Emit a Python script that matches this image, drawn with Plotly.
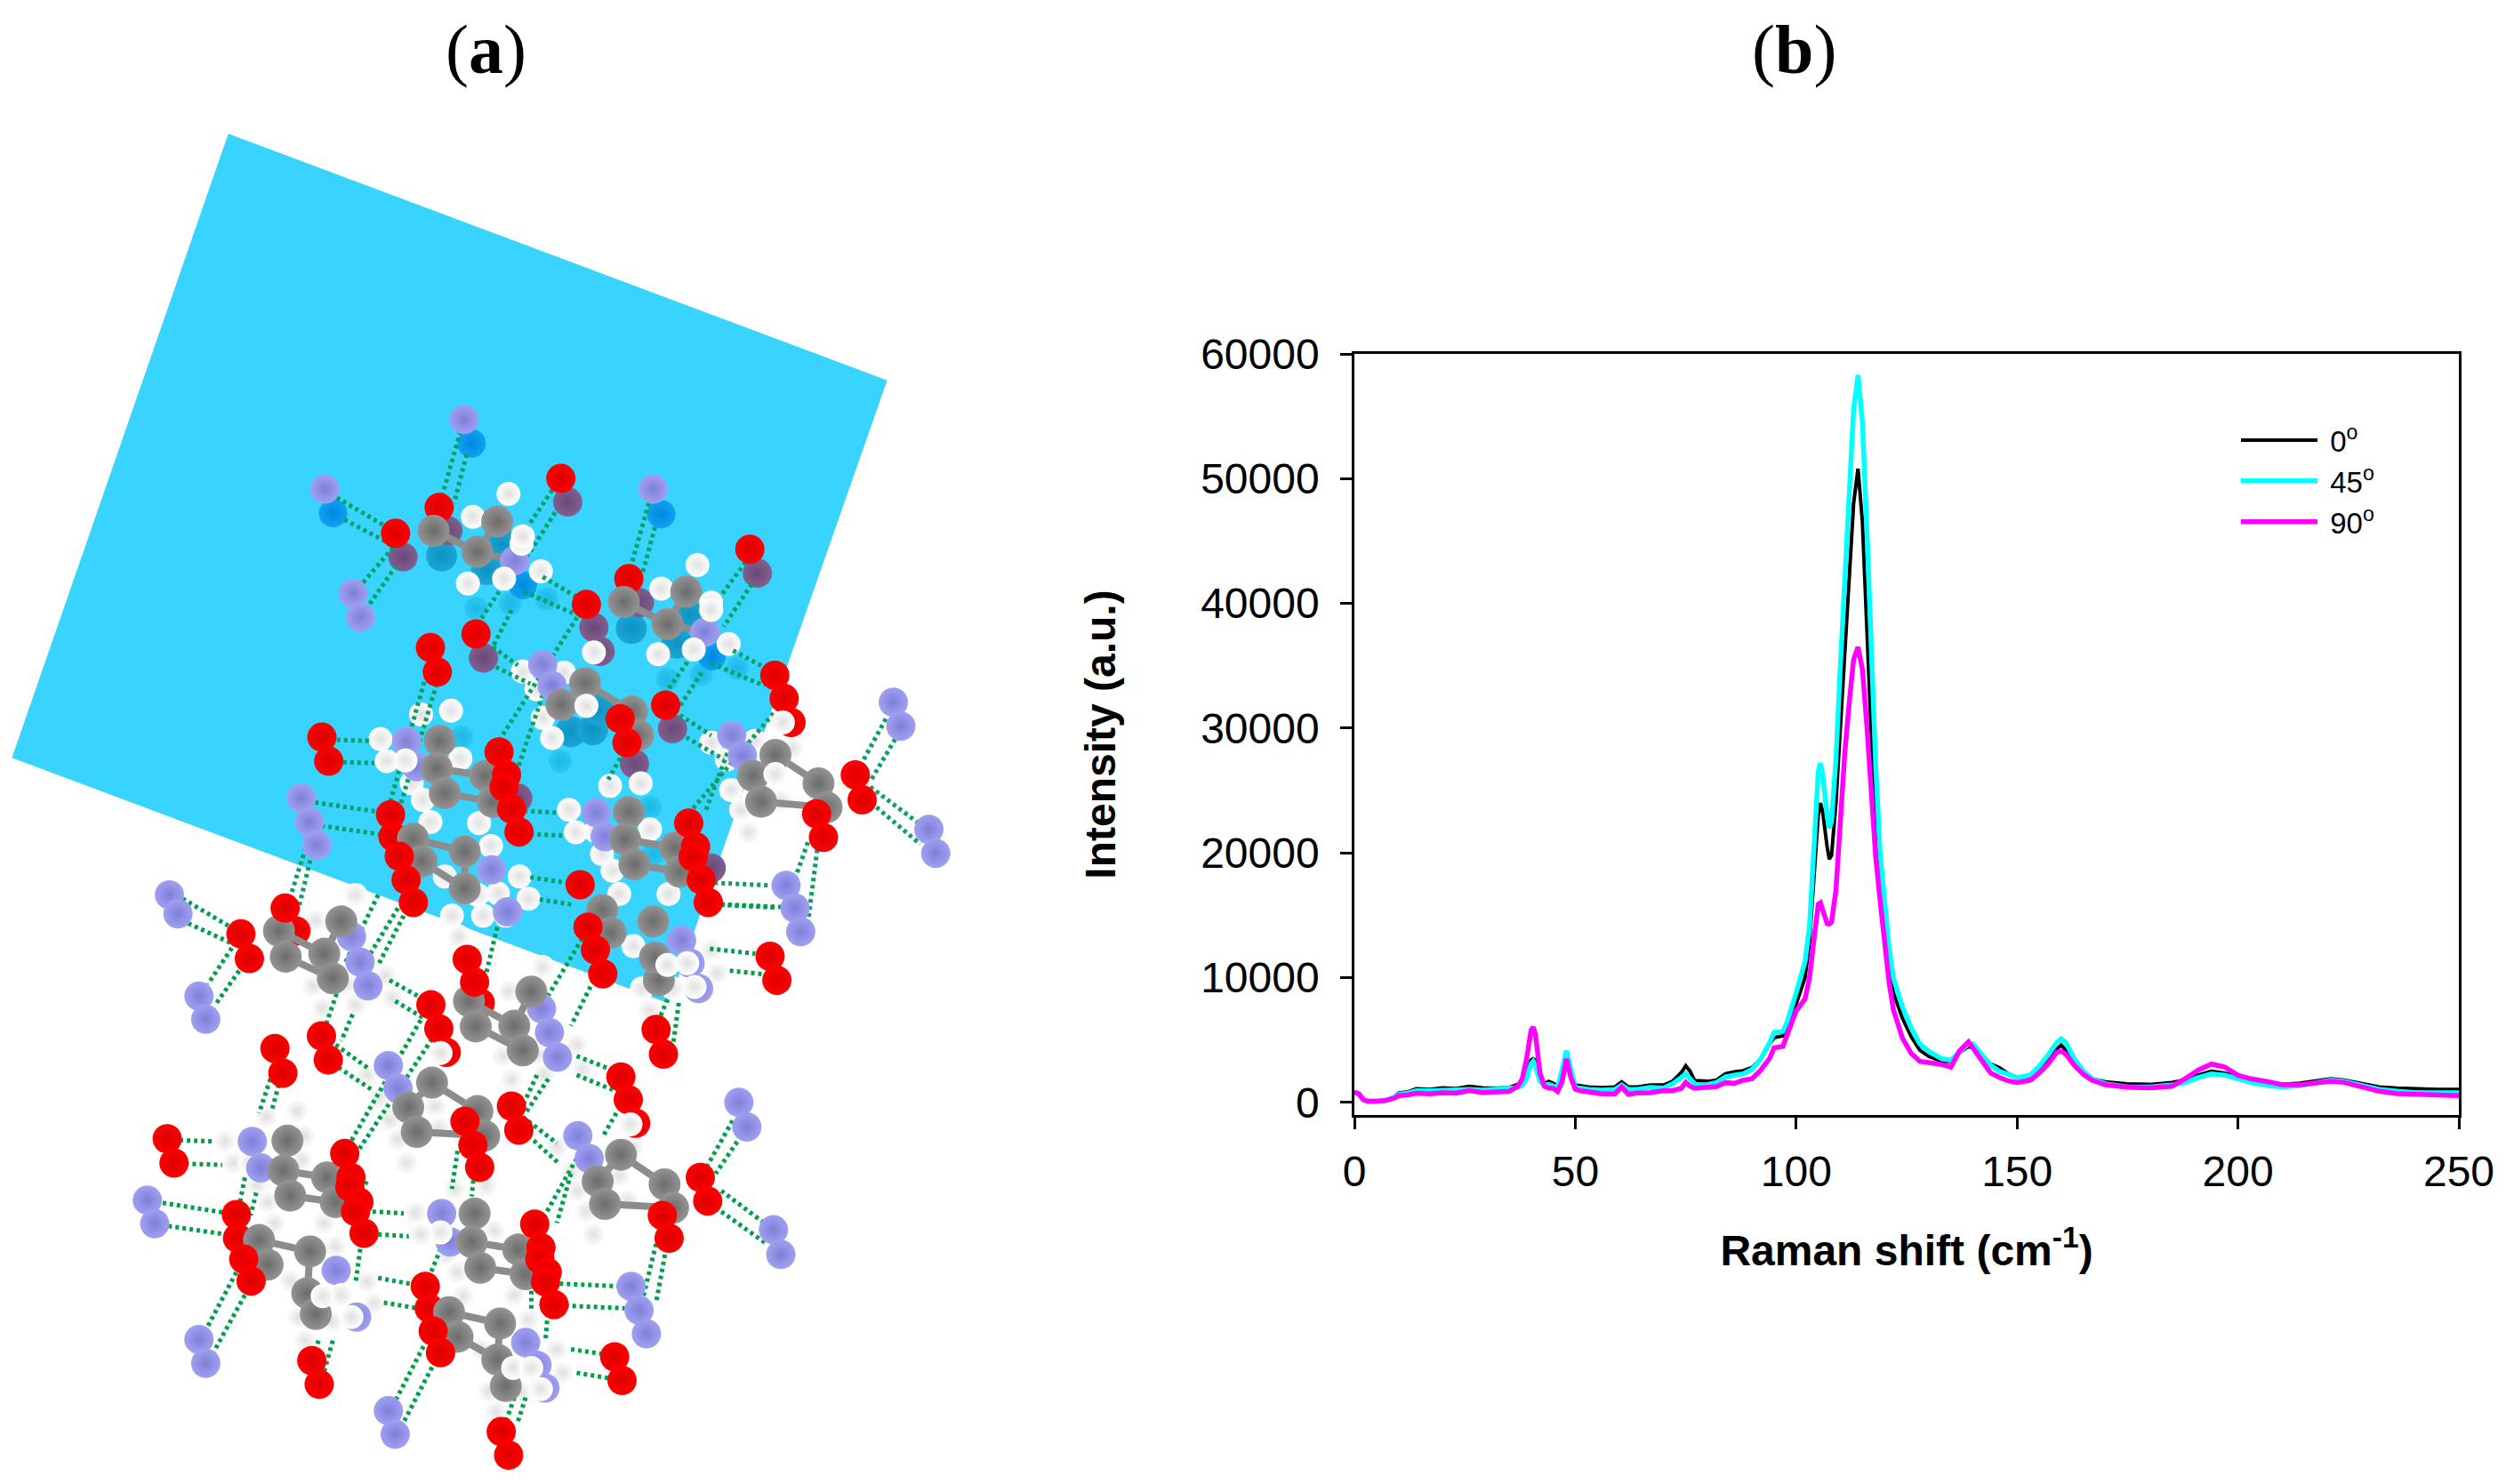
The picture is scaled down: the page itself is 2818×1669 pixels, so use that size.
import plotly.graph_objects as go

W, H = 2818, 1669
PANEL_A_W = 1300

# raman spectra
shift = [0, 1, 2, 3, 5, 7, 9, 10, 12, 14, 17, 20, 23, 26, 29, 32, 35, 37, 38, 39, 39.5, 40, 40.5, 41, 42, 43, 44, 45, 46, 47, 48, 49, 50, 51, 53, 56, 59, 60.5, 62, 64, 67, 70, 72, 74, 75, 76, 77, 78, 80, 82, 84, 86, 88, 90, 92, 94, 95, 97, 98, 100, 102, 103, 104, 105, 105.5, 106, 107, 107.5, 108, 109, 110, 111, 112, 113, 114, 115, 116, 117, 118, 119, 120, 121, 122, 124, 126, 128, 130, 133, 135, 137, 139, 140, 142, 144, 146, 148, 150, 153, 155, 157, 159, 160, 161, 163, 165, 167, 170, 175, 180, 185, 188, 191, 194, 197, 200, 203, 207, 210, 214, 218, 221, 224, 228, 232, 236, 240, 245, 250]
deg0 = [800, 650, 240, 100, 100, 200, 450, 750, 850, 1100, 1050, 1180, 1120, 1300, 1180, 1150, 1200, 1450, 1750, 2300, 3000, 3400, 3500, 3400, 2000, 1500, 1700, 1550, 1300, 2000, 3500, 2300, 1400, 1350, 1250, 1200, 1250, 1650, 1250, 1250, 1400, 1400, 1700, 2400, 2950, 2500, 1750, 1750, 1700, 1800, 2300, 2450, 2550, 2800, 3500, 4700, 5200, 5350, 6000, 7900, 10000, 12800, 18000, 23000, 24000, 23300, 20500, 19500, 19800, 24000, 30000, 36000, 42000, 48000, 50800, 46500, 38000, 29000, 21000, 16000, 13000, 10500, 8800, 6800, 5300, 4200, 3700, 3300, 3300, 4000, 4500, 4400, 3700, 3100, 2800, 2300, 2000, 2100, 2700, 3400, 4300, 4600, 4200, 3200, 2300, 1900, 1650, 1500, 1450, 1600, 1800, 2200, 2500, 2350, 2050, 1750, 1500, 1450, 1550, 1750, 1900, 1800, 1500, 1250, 1150, 1100, 1050, 1050]
deg45 = [800, 650, 240, 100, 100, 170, 400, 650, 750, 950, 950, 1000, 1000, 1050, 1000, 1050, 1080, 1200, 1400, 1900, 2600, 3100, 3300, 2900, 1700, 1400, 1450, 1350, 1200, 2600, 4150, 2700, 1200, 1150, 1050, 1000, 1050, 1400, 1050, 1050, 1200, 1150, 1500, 2000, 2300, 1900, 1500, 1400, 1450, 1600, 2050, 2200, 2300, 2650, 3500, 4800, 5600, 5700, 6500, 8800, 11300, 14000, 20000, 26500, 27200, 26300, 23000, 22000, 22500, 27500, 35000, 42000, 49000, 55500, 58300, 54500, 46000, 36000, 27000, 20000, 16000, 12500, 10000, 7700, 6000, 4700, 4100, 3500, 3400, 4100, 4700, 4700, 3900, 3000, 2500, 2200, 2000, 2200, 2900, 3800, 4800, 5100, 4800, 3500, 2500, 1900, 1500, 1250, 1250, 1400, 1600, 2000, 2300, 2200, 1900, 1600, 1350, 1250, 1350, 1600, 1800, 1700, 1350, 1050, 900, 800, 780, 780]
deg90 = [830, 700, 240, 100, 100, 150, 350, 550, 600, 750, 700, 780, 750, 950, 800, 830, 880, 1300, 1900, 3550, 4980, 5800, 6040, 5450, 2370, 1300, 1160, 1130, 880, 1650, 3500, 2000, 1070, 950, 850, 700, 700, 1230, 660, 760, 780, 950, 950, 1140, 1610, 1300, 1140, 1140, 1230, 1280, 1590, 1540, 1780, 1900, 2600, 3550, 4380, 4500, 5450, 7350, 8300, 9950, 13000, 15880, 16000, 15400, 14340, 14300, 14460, 17000, 23200, 28000, 32000, 35500, 36500, 34700, 30200, 25200, 19700, 16200, 12700, 9700, 7450, 5200, 3950, 3300, 3200, 3050, 2840, 4150, 4860, 4380, 3300, 2370, 2010, 1730, 1610, 1780, 2370, 3080, 4030, 4100, 3900, 2960, 2250, 1780, 1420, 1230, 1180, 1300, 1900, 2600, 3080, 2840, 2180, 1900, 1660, 1420, 1420, 1590, 1700, 1610, 1300, 900, 710, 660, 620, 550]
series_names = ["\u00a00<sup>o</sup>", "\u00a045<sup>o</sup>", "\u00a090<sup>o</sup>"]
x_ticks = [0, 50, 100, 150, 200, 250]
y_ticks = [0, 10000, 20000, 30000, 40000, 50000, 60000]

# plane corners in picture pixels
plane_x = [257, 997, 752, 14, 257]
plane_y = [151, 428, 1128, 852, 151]

n_a = [(744,173),(521,362),(1047,362),(566,645),(578,710),(825,556),(1130,750),(870,838),(885,895),(1173,1030),(1190,1085),(1432,940),(1444,1005),(483,1200),(496,1265),(508,1328),(652,1047),(668,1115),(956,1240),(970,1305),(1489,1285),(1500,1350),(1260,1437),(788,1395)]
n_b = [(142,15),(157,65),(194,282),(206,343),(463,125),(478,192),(492,255),(1245,50),(1255,112),(738,60),(1045,135),(1060,195),(1075,262),(798,315),(812,378),(826,443),(528,465),(545,525),(862,650),(882,710),(1146,562),(1160,627),(1207,898),(1220,963),(103,820),(116,882),(288,665),(303,735),(622,855),(637,930),(956,1047),(970,1110),(983,1172),(436,1005),(472,1128),(770,1195),(790,1255),(804,1315),(194,1187),(206,1250),(528,1375),(540,1437)]
o_back_a = [(704,412),(1008,605),(1268,995),(630,1305)]
o_back_b = [(365,110),(690,300),(630,430),(262,920),(600,1105)]
o_a = [(634,482),(899,333),(940,675),(1202,525),(763,755),(690,792),(701,858),(1242,867),(1257,930),(1067,948),(994,985),(1005,1050),(516,1035),(527,1100),(800,1075),(812,1137),(808,1170),(820,1230),(832,1292),(626,1245),(640,1358),(651,1422),(1371,1137),(1382,1205),(1309,1243),(1320,1307),(1104,1268),(1115,1332),(1111,1360),(1124,1422),(930,1435)]
o_b = [(346,50),(268,118),(283,183),(572,35),(667,185),(680,245),(603,305),(617,368),(1092,35),(880,100),(893,160),(906,223),(1201,177),(1213,240),(1000,370),(1013,435),(410,387),(422,450),(328,420),(342,485),(938,495),(951,555),(964,617),(745,572),(758,635),(663,612),(677,675),(689,733),(451,697),(462,760),(460,785),(476,825),(470,850),(485,907),(1078,760),(1091,822),(1011,860),(1023,920),(138,658),(150,722),(260,858),(273,975),(286,1033),(786,883),(797,945),(795,975),(808,1010),(805,1035),(820,1095),(593,1047),(607,1165),(620,1222),(927,1233),(940,1295),(393,1243),(406,1305),(727,1430),(740,1492)]
c_a = [(695,475),(797,450),(765,532),(1000,668),(1100,640),(1070,728),(938,888),(900,947),(1013,965),(1023,1030),(705,1045),(700,1120),(713,1187),(778,1140),(790,1210),(662,1310),(745,1345),(676,1372),(745,1445),(1008,1238),(1002,1312),(1017,1380),(1082,1335),(1090,1400),(1243,1083),(1207,1140),(1220,1210),(1312,1160),(1325,1225)]
c_b = [(905,55),(995,85),(335,110),(347,178),(415,170),(445,85),(430,235),(670,295),(682,362),(750,360),(780,270),(765,425),(920,115),(1005,240),(998,180),(605,510),(563,575),(578,640),(685,585),(697,650),(350,663),(343,742),(355,808),(420,760),(435,825),(938,700),(897,770),(910,830),(1015,778),(1030,840),(680,855),(675,930),(690,998),(757,950),(770,1015),(300,925),(390,955),(315,990),(385,1065),(400,1120),(635,1115),(725,1145),(650,1180),(720,1240),(735,1310)]
h_a = [(815,375),(758,437),(867,585),(750,618),(1118,568),(1060,632),(1168,782),(1055,810),(952,805),(838,857),(904,860),(860,905),(870,983),(885,1037),(675,973),(723,963),(610,1040),(738,1093),(660,1160),(678,1205),(690,1265),(768,1268),(787,1330),(833,1413),(713,1413),(978,1167),(1027,1160),(912,1232),(923,1293),(955,1290),(1042,1285),(965,1352),(982,1397),(1140,1050),(1165,1095),(1210,1045),(1270,1065),(1172,1178),(1188,1232),(1253,1208),(1200,1293)]
h_b = [(400,83),(470,15),(395,255),(455,250),(412,315),(470,305),(523,228),(535,287),(652,125),(740,270),(800,205),(860,410),(870,475),(730,440),(790,435),(745,502),(802,490),(960,150),(975,262),(1030,262),(1097,160),(1108,222),(988,320),(490,490),(610,572),(512,550),(530,610),(617,630),(545,660),(560,722),(775,25),(685,15),(721,11),(935,13),(1022,13),(735,70),(695,70),(640,70),(960,680),(825,680),(850,745),(935,755),(862,795),(877,850),(890,910),(950,820),(367,585),(313,600),(380,650),(255,722),(285,722),(375,715),(297,780),(315,825),(327,880),(415,880),(435,942),(575,853),(630,965),(715,900),(650,1010),(645,790),(700,782),(490,1035),(503,1092),(355,1032),(370,1130),(428,1140),(382,1190),(660,1072),(750,1070),(690,1212),(825,1215),(835,1275),(705,1325),(762,1325),(718,1378),(775,1135)]
h_front_a = [(836,510),(838,490),(808,605),(1112,797),(1140,670),(1140,690),(940,950),(620,1100),(650,1098),(1255,995),(1243,1135)]
h_front_b = [(620,432),(955,620),(445,1070),(412,1073),(463,1128),(1020,200),(1055,195),(1068,258),(620,905),(585,910),(240,665),(748,1262),(780,1262),(797,1318)]
# atoms seen through the plane
n_tint_a = [(756,238),(534,427),(1060,430),(838,622),(1141,815)]
o_tint_a = [(910,397),(646,546),(1214,590),(952,737),(962,802),(775,820),(1078,1012),(1017,1107),(718,475),(1025,670),(830,1200),(1140,1390)]
c_tint_a = [(708,543),(780,580),(805,510),(1012,740),(1085,780),(1105,705),(915,1020),(950,1015),(960,960)]
h_tint_a = [(763,685),(818,672),(876,660),(1070,878),(1124,865),(1182,848),(898,1100),(740,1035),(1042,1225),(1048,1350)]

# bonds as x0, y0, x1, y1 in the same crops
hbond_a = [(738,205,708,385),(748,268,728,400),(540,385,620,465),(552,445,625,510),(885,365,820,530),(890,425,845,545),(1040,400,1010,580),(1050,465,1030,590),(1195,560,1135,700),(1205,620,1160,735),(630,520,575,630),(635,570,590,680),(870,600,925,655),(840,640,920,700),(1175,800,1225,845),(1140,835,1225,895),(790,790,830,840),(795,845,850,890),(800,640,765,730),(820,690,790,790),(925,710,800,1045),(870,920,830,1120),(1115,800,1065,920),(1125,860,1090,950),(1090,975,1140,1030),(1100,1035,1160,1095),(1240,970,1100,1250),(1170,1060,1130,1240),(1000,1075,975,1150),(680,885,625,1215),(700,890,640,1230),(540,1042,592,1045),(550,1103,600,1105),(505,1212,605,1237),(515,1275,615,1300),(490,1335,465,1470),(500,1350,480,1490),(1420,985,1380,1110),(1435,1040,1395,1155),(1395,1170,1470,1265),(1405,1225,1475,1325),(1295,1320,1270,1440),(1310,1340,1295,1540),(840,1235,895,1240),(850,1298,905,1302),(850,1415,910,1430),(865,1475,920,1490),(1145,1430,1235,1437),(1155,1490,1245,1497)]
hbond_b = [(165,25,250,100),(175,90,255,145),(252,155,210,250),(265,215,225,300),(510,15,450,200),(545,50,480,210),(445,240,415,370),(465,330,445,400),(530,240,590,290),(540,295,590,340),(435,410,495,475),(440,470,500,530),(585,345,460,670),(605,395,470,700),(320,500,300,590),(335,515,322,585),(160,662,225,665),(170,724,235,727),(130,827,240,853),(140,888,250,912),(275,760,265,835),(295,800,285,860),(500,850,555,855),(510,910,565,915),(490,770,470,820),(480,930,470,1040),(260,1010,205,1165),(275,1070,220,1220),(510,1025,572,1042),(520,1090,580,1105),(590,1205,540,1350),(605,1260,555,1405),(765,600,825,670),(775,650,830,725),(790,490,765,570),(810,500,770,590),(860,440,920,475),(860,490,925,530),(930,590,905,655),(860,710,800,870),(850,750,825,880),(1115,795,1195,885),(1115,850,1195,935),(1135,610,1090,730),(1150,650,1105,750),(1000,935,975,1090),(1018,945,1000,1090),(650,690,640,790),(680,730,675,810),(830,1040,935,1047),(840,1098,945,1105),(850,1213,905,1225),(860,1275,920,1290),(625,930,595,1040),(780,1040,780,1110),(810,1100,805,1190),(750,1340,735,1405),(770,1340,755,1410),(405,1190,395,1230),(430,1190,415,1270),(1115,40,1220,47),(1095,157,1175,170),(1130,215,1195,225),(1020,290,1005,345),(1040,300,1030,410),(870,130,810,280),(890,240,850,360),(720,100,700,225),(555,70,510,200)]
stick_a = [(695,475,765,532),(765,532,797,450),(765,532,825,556),(1000,668,1070,728),(1070,728,1100,640),(1070,728,1130,750),(938,888,900,947),(938,888,1013,965),(1013,965,1023,1030),(705,1045,700,1120),(700,1120,778,1140),(713,1187,790,1210),(662,1310,745,1345),(745,1345,745,1445),(676,1372,745,1445),(1008,1238,1002,1312),(1002,1312,1082,1335),(1017,1380,1090,1400),(1243,1083,1312,1160),(1207,1140,1243,1083),(1220,1210,1325,1225)]
stick_b = [(335,110,415,170),(347,178,430,235),(415,170,445,85),(670,295,750,360),(682,362,765,425),(750,360,780,270),(605,510,685,585),(563,575,605,510),(578,640,697,650),(350,663,343,742),(343,742,420,760),(355,808,435,825),(938,700,1015,778),(897,770,938,700),(910,830,1030,840),(680,855,675,930),(675,930,757,950),(690,998,770,1015),(300,925,390,955),(390,955,385,1065),(635,1115,725,1145),(650,1180,720,1240),(725,1145,720,1240),(720,1240,735,1310)]


def from_a(x, y):
    return x / 1.4255, 400 + y / 2.412


def from_b(x, y):
    return 100 + x / 1.568, 1000 + y / 2.344


def atoms(a, b, centre, edge, size):
    pts = [from_a(*p) for p in a] + [from_b(*p) for p in b]
    fig.add_trace(go.Scatter(x=[p[0] for p in pts], y=[p[1] for p in pts], xaxis="x2", yaxis="y2",
                             mode="markers", showlegend=False, hoverinfo="skip", cliponaxis=False,
                             marker=dict(size=size, color=centre, line_width=0,
                                         gradient=dict(type="radial", color=edge))))


def bonds(segs, conv, color, width, dash="solid"):
    xs, ys = [], []
    for s in segs:
        x0, y0 = conv(s[0], s[1])
        x1, y1 = conv(s[2], s[3])
        xs += [x0, x1, None]
        ys += [y0, y1, None]
    fig.add_trace(go.Scatter(x=xs, y=ys, xaxis="x2", yaxis="y2", mode="lines", showlegend=False,
                             hoverinfo="skip", cliponaxis=False,
                             line=dict(color=color, width=width, dash=dash)))


fig = go.Figure()

# panel a
fig.add_trace(go.Scatter(x=plane_x, y=plane_y, xaxis="x2", yaxis="y2", mode="lines", fill="toself",
                         fillcolor="#38d3ff", line=dict(color="#38d3ff", width=1),
                         showlegend=False, hoverinfo="skip"))
atoms(h_tint_a, [], "#2cc8f2", "#1cb8e6", 26)
atoms(c_tint_a, [], "#1ca6d4", "#0b92c4", 35)
atoms(n_tint_a, [], "#0ea2f2", "#0088de", 32)
atoms(o_tint_a, [], "#80608f", "#6b4878", 33)
atoms(h_a, h_b, "#ffffff", "#e0e0e0", 27)
bonds(hbond_a, from_a, "#0a9f63", 5, "4px,4px")
bonds(hbond_b, from_b, "#00a04a", 5, "4px,4px")
atoms(o_back_a, o_back_b, "#ff0000", "#dc0000", 33)
bonds(stick_a, from_a, "#8c8c8c", 8)
bonds(stick_b, from_b, "#8c8c8c", 8)
atoms(n_a, n_b, "#a0a0f2", "#7f7fd8", 33)
atoms(c_a, c_b, "#949494", "#6c6c6c", 36)
atoms(o_a, o_b, "#ff0000", "#dc0000", 33)
atoms(h_front_a, h_front_b, "#ffffff", "#e0e0e0", 27)

# panel b
fig.add_trace(go.Scatter(x=shift, y=deg0, name=series_names[0], mode="lines", line=dict(color="#000000", width=4)))
fig.add_trace(go.Scatter(x=shift, y=deg45, name=series_names[1], mode="lines", line=dict(color="#00ffff", width=5.5)))
fig.add_trace(go.Scatter(x=shift, y=deg90, name=series_names[2], mode="lines", line=dict(color="#ff00ff", width=5.5)))

axis_font = dict(family="Liberation Sans", size=48, color="black")
title_font = dict(family="Liberation Sans", size=48, color="black")

fig.update_layout(
    width=W, height=H, margin=dict(l=0, r=0, t=0, b=0, autoexpand=False),
    paper_bgcolor="white", plot_bgcolor="white",
    xaxis=dict(domain=[1523 / W, 2765 / W], range=[0, 250], tickvals=x_ticks, ticks="outside",
               ticklen=13, tickwidth=2.5, tickcolor="black", linecolor="black", linewidth=2.5,
               mirror=True, showgrid=False, zeroline=False, tickfont=axis_font, ticklabelstandoff=7,
               title=dict(text="<b>Raman shift (cm<sup>-1</sup>)</b>", font=title_font, standoff=47)),
    yaxis=dict(domain=[(H - 1254) / H, (H - 398) / H], range=[-1000, 60000], tickvals=y_ticks, ticks="outside",
               tickformat="d", ticklen=13, tickwidth=2.5, tickcolor="black", linecolor="black", linewidth=2.5,
               mirror=True, showgrid=False, zeroline=False, tickfont=axis_font, ticklabelstandoff=14,
               title=dict(text="<b>Intensity (a.u.)</b>", font=title_font, standoff=81)),
    xaxis2=dict(domain=[0, PANEL_A_W / W], range=[0, PANEL_A_W], visible=False, anchor="y2"),
    yaxis2=dict(domain=[0, 1], range=[H, 0], visible=False, anchor="x2"),
    legend=dict(x=2515 / W, y=(H - 467) / H, xanchor="left", yanchor="top", bgcolor="rgba(0,0,0,0)",
                font=dict(family="Liberation Sans", size=33, color="black"), itemwidth=86),
    annotations=[
        dict(text="(<b>a</b>)", xref="paper", yref="paper", x=546 / W, y=(H - 55) / H, showarrow=False,
             xanchor="center", yanchor="middle",
             font=dict(family="Liberation Serif", size=78, color="black")),
        dict(text="(<b>b</b>)", xref="paper", yref="paper", x=2017 / W, y=(H - 55) / H, showarrow=False,
             xanchor="center", yanchor="middle",
             font=dict(family="Liberation Serif", size=78, color="black")),
    ],
)

fig.write_html("out.html", config={"displayModeBar": False}, post_script="document.body.style.margin='0';")
